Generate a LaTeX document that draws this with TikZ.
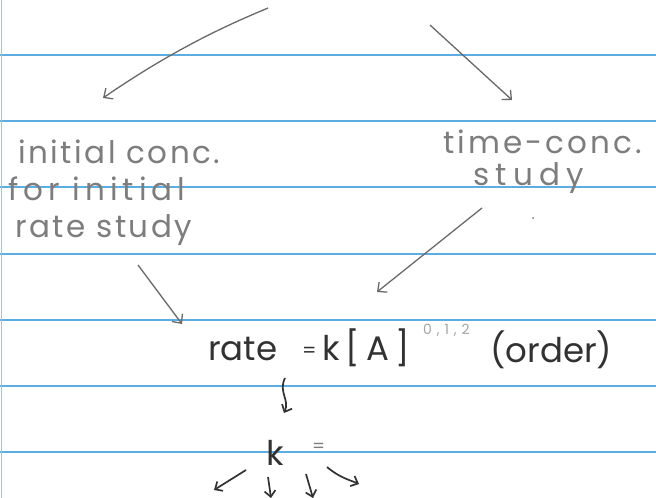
\documentclass[tikz,border=0pt]{standalone}
\usepackage{fontspec}
\setmainfont{Poppins}
\newfontfamily\notefont{Poppins}
\usetikzlibrary{arrows.meta}
\definecolor{lineblue}{RGB}{92,174,226}
\definecolor{marginpink}{RGB}{242,160,196}
\definecolor{pencil}{RGB}{125,125,125}
\definecolor{pen}{RGB}{50,50,50}
\definecolor{arrowgray}{RGB}{105,105,105}
\newcommand{\spaced}[1]{\addfontfeature{LetterSpace=#1}}
\tikzset{
  ruled/.style={lineblue, line width=2.2pt},
  pencilnote/.style={anchor=base west, inner sep=0pt, text=pencil, font=\notefont\fontsize{31}{31}\selectfont},
  pennote/.style={anchor=base west, inner sep=0pt, text=pen, font=\notefont\fontsize{34}{34}\selectfont},
  sketcharrow/.style={arrowgray, line width=1.3pt, -{Straight Barb[length=7pt,width=13pt,line width=1.3pt]}},
  inkarrow/.style={pen, line width=1.7pt, -{Straight Barb[length=6pt,width=11pt,line width=1.7pt]}}
}
\begin{document}
\begin{tikzpicture}[x=1pt,y=-1pt]
\useasboundingbox (0,0) rectangle (656,498);
\fill[white] (0,0) rectangle (656,498);
% ruled paper
\foreach \yy in {55,121,187,254,320,386,452} {
  \draw[ruled] (0,\yy) -- (656,\yy);
}
\draw[marginpink, line width=1.5pt] (1.5,0) -- (1.5,498);

% notes
\node[pencilnote] (init1) at (18,163) {\spaced{8}initial conc.};
\node[pencilnote] (init2) at (8,200) {\spaced{16}for initial};
\node[pencilnote] (init3) at (15,237) {\spaced{8}rate study};
\node[pencilnote] (time1) at (443,153) {\spaced{10}time-conc.};
\node[pencilnote] (time2) at (473,185) {\spaced{20}study};
\fill[pencil] (533,218) circle (1pt);

\node[pennote] (rate) at (208,360) {rate};
\node[pennote, font=\notefont\fontsize{20}{20}\selectfont] (eqs) at (302,357) {=};
\node[pennote] (kA) at (322,360) {\spaced{18}k[A]};
\node[anchor=base west, inner sep=0pt, text=pencil!70, font=\notefont\fontsize{14}{14}\selectfont] (ord) at (423,334) {\spaced{35}0,1,2};
\node[pennote] (order) at (490,362) {(order)};
\node[pennote] (kk) at (266,465) {k};
\node[anchor=base west, inner sep=0pt, text=pencil, font=\notefont\fontsize{18}{18}\selectfont] (eq) at (312,452) {=};

% connectors
\coordinate (a1s) at (268,8);   \coordinate (a1e) at (103,98);
\coordinate (a2s) at (430,25);  \coordinate (a2e) at (512,100);
\coordinate (a3s) at (482,208); \coordinate (a3e) at (377,292);
\coordinate (a4s) at (138,265); \coordinate (a4e) at (182,324);
\coordinate (a5s) at (285,378); \coordinate (a5e) at (284,413);
\coordinate (b1s) at (246,470); \coordinate (b1e) at (214,490);
\coordinate (b2s) at (268,477); \coordinate (b2e) at (271,498);
\coordinate (b3s) at (306,474); \coordinate (b3e) at (313,498);
\coordinate (b4s) at (327,467); \coordinate (b4e) at (359,484);

\draw[sketcharrow] (a1s) .. controls (235,22) and (180,45) .. (a1e);
\draw[sketcharrow] (a2s) -- (a2e);
\draw[sketcharrow] (a3s) -- (a3e);
\draw[sketcharrow] (a4s) -- (a4e);
\draw[inkarrow] (a5s) .. controls (278,392) and (290,400) .. (a5e);
\draw[inkarrow] (b1s) -- (b1e);
\draw[inkarrow] (b2s) -- (b2e);
\draw[inkarrow] (b3s) -- (b3e);
\draw[inkarrow] (b4s) .. controls (340,478) and (350,480) .. (b4e);
\end{tikzpicture}
\end{document}
